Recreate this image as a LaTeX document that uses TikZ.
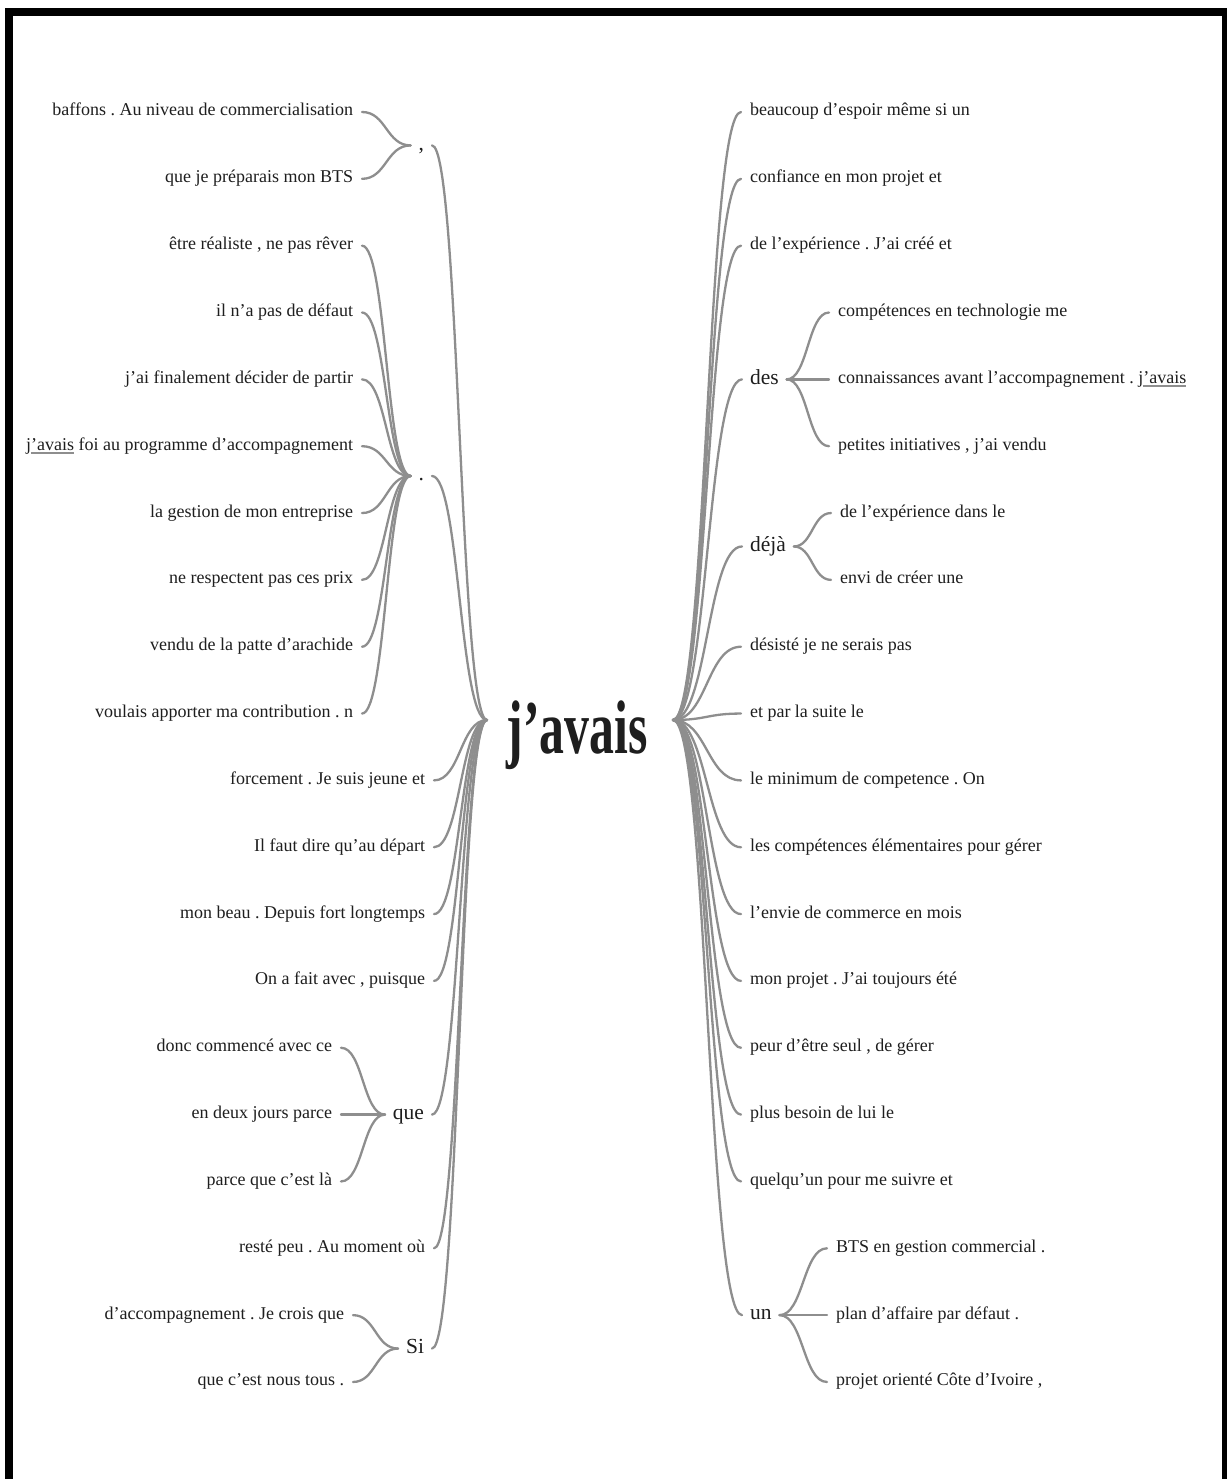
\documentclass[tikz,border=0pt]{standalone}
\usepackage{fontspec}
\usepackage{graphicx}
\setmainfont{Liberation Serif}
\usetikzlibrary{calc}
\frenchspacing
\definecolor{linkgray}{HTML}{8E8E8E}
\definecolor{ink}{HTML}{1E1E1E}
\newsavebox\ulbox
\newcommand\ulav[1]{\sbox\ulbox{#1}\rlap{\textcolor{linkgray}{\rule[-3.5pt]{\wd\ulbox}{1.5pt}}}\usebox\ulbox}
\newcommand\wl[2]{\draw[link] let \p1=(#1), \p2=(#2) in (\p1) .. controls ({0.5*\x1+0.5*\x2},\y1) and ({0.5*\x1+0.5*\x2},\y2) .. (\p2);}
\begin{document}
\begin{tikzpicture}[x=1pt,y=-1pt,
  leaf/.style={font=\fontsize{18}{20}\selectfont\frenchspacing, text=ink, inner sep=0pt, outer xsep=9pt, text height=12pt, text depth=4pt},
  mid/.style={font=\fontsize{21.5}{23}\selectfont, text=ink, inner sep=0pt, outer xsep=8pt, text height=14pt, text depth=4.5pt},
  lft/.style={leaf, anchor=east},
  rgt/.style={leaf, anchor=west},
  link/.style={draw=linkgray, line width=2.3pt, line cap=round}]
\useasboundingbox (0,0) rectangle (1227,1479);
\fill[white] (0,0) rectangle (1227,1479);
% frame
\fill[black] (5,8) rectangle (1227,16);
\fill[black] (5,8) rectangle (13,1479);
\fill[black] (1222,8) rectangle (1227,1479);

% centre
\node[font=\bfseries\fontsize{76}{76}\selectfont, text=ink, inner sep=0pt, anchor=base] (c) at (577,753) {\scalebox{0.655}[1]{j’avais}};
\coordinate (hL) at (487,720);
\coordinate (hR) at (673,720);

% ---------- left side ----------
\node[mid, anchor=east] (Lc) at (432,145.42) {,};
\node[lft] (L1) at (362,112) {baffons . Au niveau de commercialisation};
\node[lft] (L2) at (362,178.84) {que je préparais mon BTS};

\node[mid, anchor=east] (Ld) at (432,476) {.};
\node[lft] (L3) at (362,245.68) {être réaliste , ne pas rêver};
\node[lft] (L4) at (362,312.52) {il n’a pas de défaut};
\node[lft] (L5) at (362,379.36) {j’ai finalement décider de partir};
\node[lft] (L6) at (362,446.2) {j\ulav{’avais} foi au programme d’accompagnement};
\node[lft] (L7) at (362,513.04) {la gestion de mon entreprise};
\node[lft] (L8) at (362,579.88) {ne respectent pas ces prix};
\node[lft] (L9) at (362,646.72) {vendu de la patte d’arachide};
\node[lft] (L10) at (362,713.56) {voulais apporter ma contribution . n};

\node[lft] (L11) at (434,780.4) {forcement . Je suis jeune et};
\node[lft] (L12) at (434,847.24) {Il faut dire qu’au départ};
\node[lft] (L13) at (434,914.08) {mon beau . Depuis fort longtemps};
\node[lft] (L14) at (434,980.92) {On a fait avec , puisque};

\node[mid, anchor=east] (Lq) at (432,1114.6) {que};
\node[lft] (L15) at (341,1047.76) {donc commencé avec ce};
\node[lft] (L16) at (341,1114.6) {en deux jours parce};
\node[lft] (L17) at (341,1181.44) {parce que c’est là};

\node[lft] (L18) at (434,1248.28) {resté peu . Au moment où};

\node[mid, anchor=east] (Ls) at (432,1348.54) {Si};
\node[lft] (L19) at (353,1315.12) {d’accompagnement . Je crois que};
\node[lft] (L20) at (353,1381.96) {que c’est nous tous .};

% ---------- right side ----------
\node[rgt] (R1) at (741,112) {beaucoup d’espoir même si un};
\node[rgt] (R2) at (741,178.84) {confiance en mon projet et};
\node[rgt] (R3) at (741,245.68) {de l’expérience . J’ai créé et};

\node[mid, anchor=west] (Rdes) at (742,379.36) {des};
\node[rgt] (R4) at (829,312.52) {compétences en technologie me};
\node[rgt] (R5) at (829,379.36) {connaissances avant l’accompagnement . j\ulav{’avais}};
\node[rgt] (R6) at (829,446.2) {petites initiatives , j’ai vendu};

\node[mid, anchor=west] (Rdeja) at (742,546.46) {déjà};
\node[rgt] (R7) at (831,513.04) {de l’expérience dans le};
\node[rgt] (R8) at (831,579.88) {envi de créer une};

\node[rgt] (R9) at (741,646.72) {désisté je ne serais pas};
\node[rgt] (R10) at (741,713.56) {et par la suite le};
\node[rgt] (R11) at (741,780.4) {le minimum de competence . On};
\node[rgt] (R12) at (741,847.24) {les compétences élémentaires pour gérer};
\node[rgt] (R13) at (741,914.08) {l’envie de commerce en mois};
\node[rgt] (R14) at (741,980.92) {mon projet . J’ai toujours été};
\node[rgt] (R15) at (741,1047.76) {peur d’être seul , de gérer};
\node[rgt] (R16) at (741,1114.6) {plus besoin de lui le};
\node[rgt] (R17) at (741,1181.44) {quelqu’un pour me suivre et};

\node[mid, anchor=west] (Run) at (742,1315.12) {un};
\node[rgt] (R18) at (827,1248.28) {BTS en gestion commercial .};
\node[rgt] (R19) at (827,1315.12) {plan d’affaire par défaut .};
\node[rgt] (R20) at (827,1381.96) {projet orienté Côte d’Ivoire ,};

% ---------- links ----------
\foreach \nd in {Lc,Ld,L11,L12,L13,L14,Lq,L18,Ls} {\wl{hL}{\nd.east}}
\foreach \nd in {L1,L2} {\wl{Lc.west}{\nd.east}}
\foreach \nd in {L3,L4,L5,L6,L7,L8,L9,L10} {\wl{Ld.west}{\nd.east}}
\foreach \nd in {L15,L16,L17} {\wl{Lq.west}{\nd.east}}
\foreach \nd in {L19,L20} {\wl{Ls.west}{\nd.east}}

\foreach \nd in {R1,R2,R3,Rdes,Rdeja,R9,R10,R11,R12,R13,R14,R15,R16,R17,Run} {\wl{hR}{\nd.west}}
\foreach \nd in {R4,R5,R6} {\wl{Rdes.east}{\nd.west}}
\foreach \nd in {R7,R8} {\wl{Rdeja.east}{\nd.west}}
\foreach \nd in {R18,R19,R20} {\wl{Run.east}{\nd.west}}
\end{tikzpicture}
\end{document}
